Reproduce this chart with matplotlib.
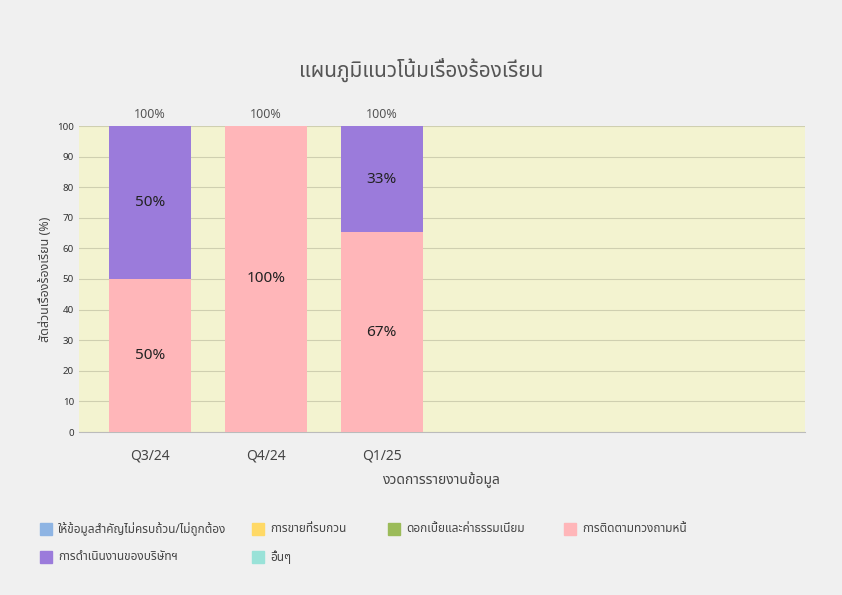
import numpy as np
import matplotlib.pyplot as plt
import matplotlib.patches as patches

plt.rcParams['font.family'] = ['Noto Sans Thai', 'Noto Sans', 'DejaVu Sans']

periods = ['Q3/24', 'Q4/24', 'Q1/25']
categories = ['ให้ข้อมูลสำคัญไม่ครบถ้วน/ไม่ถูกต้อง', 'การขายที่รบกวน', 'ดอกเบี้ยและค่าธรรมเนียม',
              'การติดตามทวงถามหนี้', 'การดำเนินงานของบริษัทฯ', 'อื่นๆ']
colors = ['#8eb4e3', '#ffd966', '#9bbb59', '#ffb6b9', '#9b7bdb', '#99e2d8']
values = {
    'การติดตามทวงถามหนี้': [50, 100, 65.3],
    'การดำเนินงานของบริษัทฯ': [50, 0, 34.7],
}
labels = {
    'การติดตามทวงถามหนี้': ['50%', '100%', '67%'],
    'การดำเนินงานของบริษัทฯ': ['50%', '', '33%'],
}

fig = plt.figure(figsize=(8.42, 5.95), dpi=100, facecolor='#f0f0f0')
ax = fig.add_axes([79/842, 1-432/595, 726/842, 306/595])
ax.set_facecolor('#f3f3d0')
x = np.arange(len(periods))
bottom = np.zeros(len(periods))
for name, col in zip(categories, colors):
    if name not in values:
        continue
    v = np.array(values[name])
    ax.bar(x, v, 0.71, bottom=bottom, color=col, zorder=3)
    for xi, b, h, t in zip(x, bottom, v, labels[name]):
        if t:
            ax.text(xi, b + h / 2, t, ha='center', va='center', fontsize=11, color='#222222', zorder=4)
    bottom += v
for xi, tot in zip(x, bottom):
    ax.text(xi, 101.5, f'{tot:.0f}%', ha='center', va='bottom', fontsize=9, color='#555555', fontweight='bold')

ax.set_xlim(-0.61, 5.65)
ax.set_ylim(0, 100)
ax.set_yticks(range(0, 101, 10))
ax.tick_params(axis='y', labelsize=7, length=0, colors='#333333')
ax.set_xticks(x)
ax.set_xticklabels(periods, fontsize=10, color='#444444')
ax.tick_params(axis='x', length=0, pad=12)
ax.grid(axis='y', color='#cfcfb0', lw=0.8, zorder=0)
for s in ax.spines.values():
    s.set_visible(False)
ax.spines['bottom'].set_visible(True)
ax.spines['bottom'].set_color('#bbbbbb')
ax.set_ylabel('สัดส่วนเรื่องร้องเรียน (%)', fontsize=9, color='#444444')
ax.set_xlabel('งวดการรายงานข้อมูล', fontsize=10, color='#444444', labelpad=6)
fig.text(0.5, 1-70/595, 'แผนภูมิแนวโน้มเรื่องร้องเรียน', ha='center', va='center', fontsize=15, color='#555555')

legpos = [(40, 529), (252, 529), (388, 529), (564, 529), (40, 557), (252, 557)]
for (lx, ly), name, col in zip(legpos, categories, colors):
    fig.patches.append(patches.Rectangle((lx/842, 1-(ly+6)/595), 12/842, 12/595,
                                         transform=fig.transFigure, color=col))
    fig.text((lx+18)/842, 1-ly/595, name, va='center', fontsize=8.5, color='#444444')

fig.savefig('out.png', dpi=100, facecolor=fig.get_facecolor())
